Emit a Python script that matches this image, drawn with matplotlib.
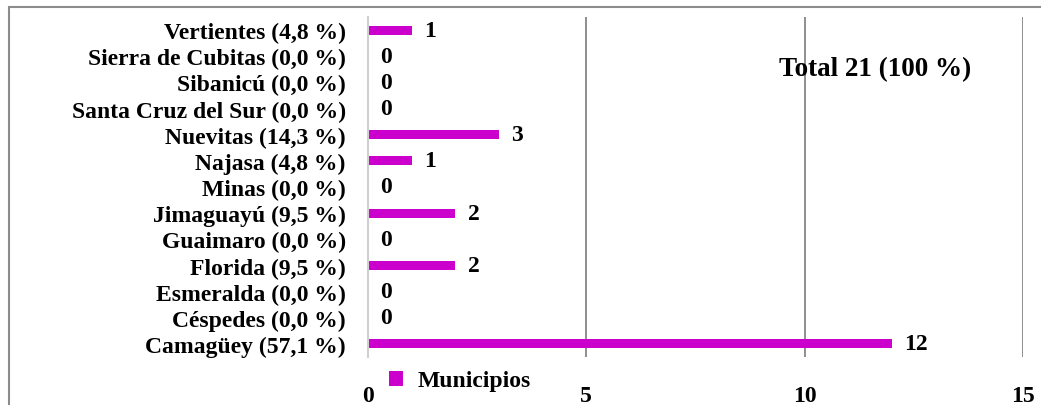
import matplotlib.pyplot as plt
from matplotlib.patches import Rectangle

municipios = ["Camagüey (57,1 %)", "Céspedes (0,0 %)", "Esmeralda (0,0 %)",
              "Florida (9,5 %)", "Guaimaro (0,0 %)", "Jimaguayú (9,5 %)",
              "Minas (0,0 %)", "Najasa (4,8 %)", "Nuevitas (14,3 %)",
              "Santa Cruz del Sur (0,0 %)", "Sibanicú (0,0 %)",
              "Sierra de Cubitas (0,0 %)", "Vertientes (4,8 %)"]
valores = [12, 0, 0, 2, 0, 2, 0, 1, 3, 0, 0, 0, 1]
xticks = [0, 5, 10, 15]

plt.rcParams['font.family'] = ['Liberation Serif', 'DejaVu Serif']
plt.rcParams['font.weight'] = 'bold'
fs = 17

fig = plt.figure(figsize=(10.41, 4.06), dpi=100)
ax = fig.add_axes([368 / 1041, 48 / 406, (1023 - 368) / 1041, 340 / 406])

pos = range(len(municipios))
bars = ax.barh(pos, valores, height=0.34, color='#CC00CC', label='Municipios')
for b, v in zip(bars, valores):
    ax.annotate(str(v), (b.get_width(), b.get_y() + b.get_height() / 2),
                xytext=(9, 0), textcoords='offset points', va='center',
                ha='left', fontsize=fs, fontweight='bold')

ax.set_xlim(0, 15)
ax.set_ylim(-0.5, len(municipios) - 0.5)
ax.set_yticks(list(pos))
ax.set_yticklabels(municipios, fontsize=fs, fontweight='bold')
ax.set_xticks(xticks)
ax.set_xticklabels([str(t) for t in xticks], fontsize=fs, fontweight='bold')
ax.tick_params(length=0, pad=16)
ax.tick_params(axis='x', pad=20)
ax.xaxis.grid(True, color='#868686', linewidth=1.3)
ax.set_axisbelow(True)
for s in ['top', 'right', 'bottom']:
    ax.spines[s].set_visible(False)
ax.spines['left'].set_color('#d0d0d0')
ax.spines['left'].set_linewidth(1.5)

ax.text(0.774, 0.847, "Total 21 (100 %)", transform=ax.transAxes,
        ha='center', va='center', fontsize=19.5, fontweight='bold')

fig.legend(loc='center', bbox_to_anchor=(460 / 1041, 1 - 382 / 406),
           frameon=False, fontsize=fs, handlelength=0.6, handleheight=0.6,
           handletextpad=0.6, borderpad=0)

fig.patches.append(Rectangle((9 / 1041, -0.1), 1.2, (406 - 8) / 406 + 0.1,
                             transform=fig.transFigure, fill=False,
                             edgecolor='#8c8c8c', linewidth=1.5))

fig.savefig('out.png', dpi=100)
